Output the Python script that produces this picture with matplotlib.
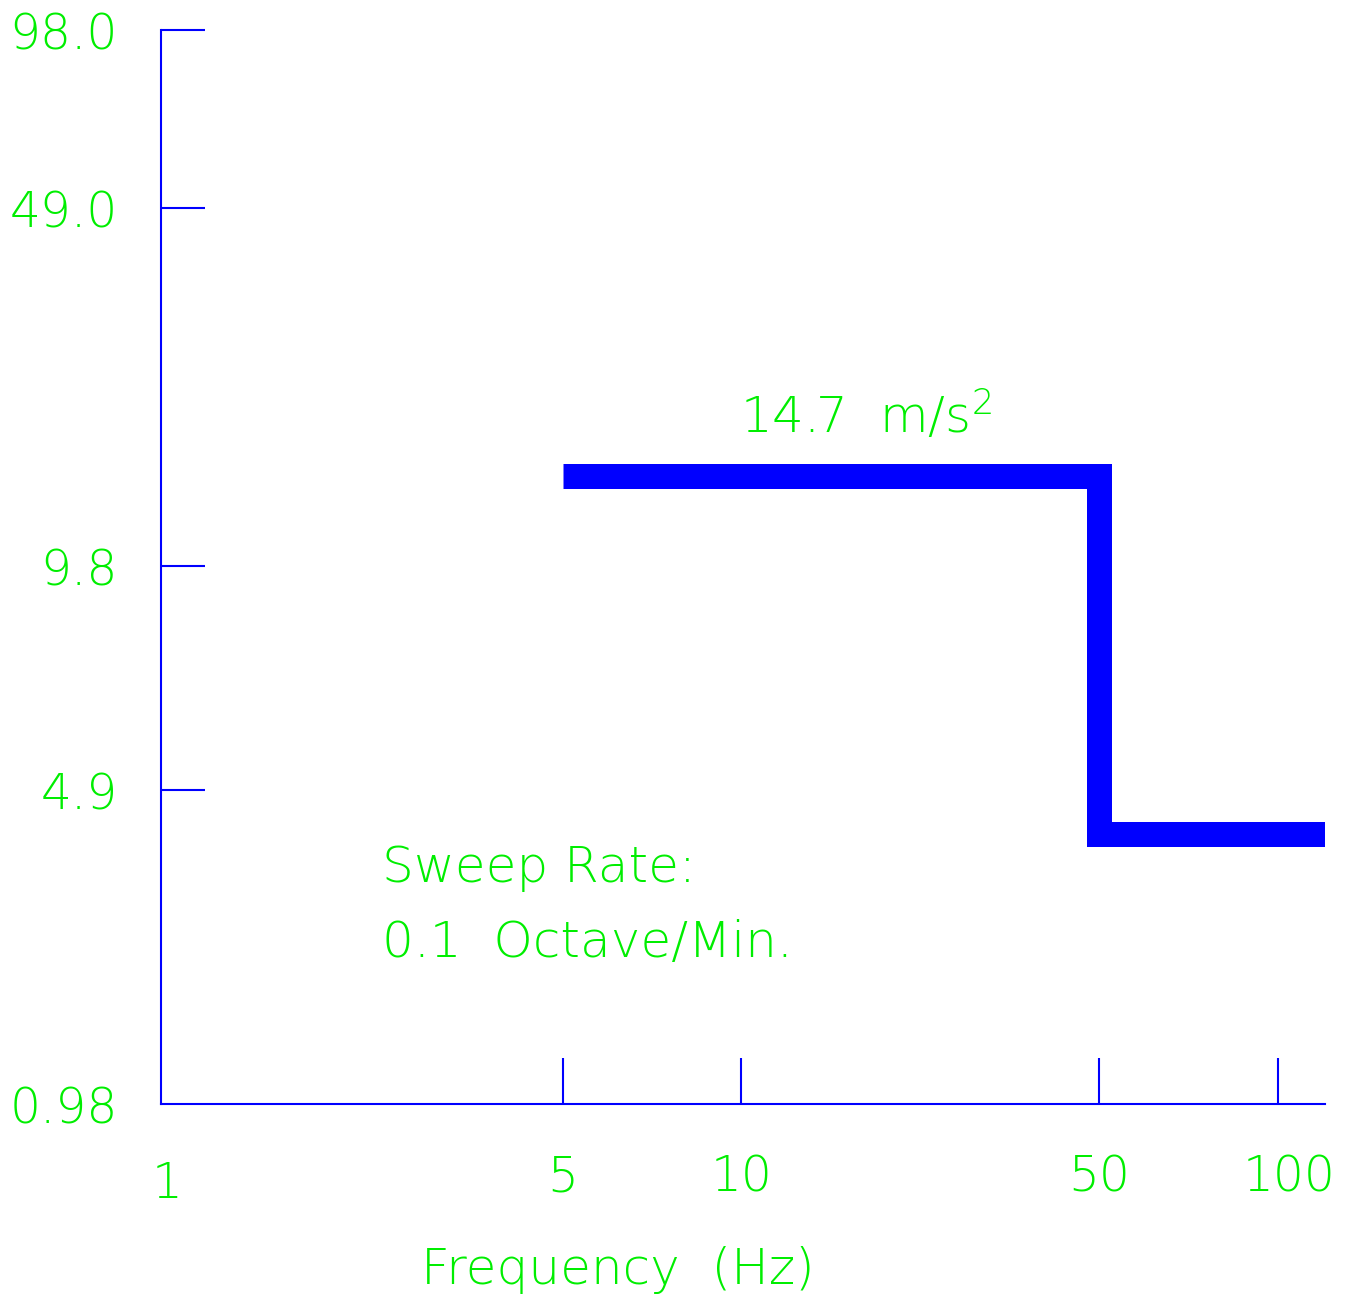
import numpy as np
import matplotlib
matplotlib.use("Agg")
import matplotlib.pyplot as plt
from matplotlib.transforms import ScaledTranslation

# sweep profile: acceleration (m/s^2) vs frequency (Hz)
freq = [5, 50, 50, 120]
accel = [14.7, 14.7, 3.92, 3.92]

x_ticks = [5, 10, 50, 100]
x_tick_labels = ["5", "10", "50", "100"]
y_ticks = [4.9, 9.8, 49.0, 98.0]
y_tick_labels = ["4.9", "9.8", "49.0", "98.0"]

BLUE = "#0000ff"
GREEN = "#00ee00"

# the drawing is not a true log-log grid, every interval has its own length
x_anchor_val = np.log10([0.5, 1, 5, 10, 50, 100, 400])
x_anchor_pos = np.array([-173, 0, 402, 581, 939, 1118, 1476])
y_anchor_val = np.log10([0.5, 0.98, 4.9, 9.8, 49, 98, 200])
y_anchor_pos = np.array([-131, 0, 314, 538, 896, 1074, 1257])


def make_scale(vals, pos):
    def fwd(v):
        v = np.clip(np.asarray(v, dtype=float), 1e-9, None)
        return np.interp(np.log10(v), vals, pos)

    def inv(p):
        return 10 ** np.interp(np.asarray(p, dtype=float), pos, vals)

    return fwd, inv


plt.rcParams["font.family"] = ["DejaVu Sans"]
plt.rcParams["mathtext.fontset"] = "custom"
plt.rcParams["mathtext.rm"] = "DejaVu Sans:light"
plt.rcParams["mathtext.it"] = "DejaVu Sans:light:italic"

fig = plt.figure(figsize=(13.51, 12.98), dpi=100)
ax = fig.add_axes([161 / 1351, 194 / 1298, 1164 / 1351, 1074 / 1298])

ax.set_xscale("function", functions=make_scale(x_anchor_val, x_anchor_pos))
ax.set_yscale("function", functions=make_scale(y_anchor_val, y_anchor_pos))

ax.plot(freq, accel, color=BLUE, lw=18, solid_joinstyle="miter",
        solid_capstyle="butt")

ax.set_xlim(1, 120)
ax.set_ylim(0.98, 98)

for s in ["top", "right"]:
    ax.spines[s].set_visible(False)
for s in ["left", "bottom"]:
    ax.spines[s].set_color(BLUE)
    ax.spines[s].set_linewidth(1.5)

ax.set_xticks(x_ticks, x_tick_labels)
ax.set_xticks([1], ["1"], minor=True)
ax.set_yticks(y_ticks, y_tick_labels)
ax.set_yticks([0.98], ["0.98"], minor=True)

ax.tick_params(which="both", direction="in", color=BLUE, width=1.5,
               labelcolor=GREEN, labelsize=35)
ax.tick_params(axis="x", which="major", length=33, pad=36)
ax.tick_params(axis="x", which="minor", length=0, pad=40)
ax.tick_params(axis="y", which="major", length=32, pad=31)
ax.tick_params(axis="y", which="minor", length=0, pad=31)
for lab in ax.get_xticklabels(which="both") + ax.get_yticklabels(which="both"):
    lab.set_fontweight("light")

# small nudges of the "100" and "1" labels, as in the drawing
fig.canvas.draw()
for lab in ax.get_xticklabels(which="both"):
    if lab.get_text() == "100":
        lab.set_transform(lab.get_transform() +
                          ScaledTranslation(0.11, 0, fig.dpi_scale_trans))
    elif lab.get_text() == "1":
        lab.set_transform(lab.get_transform() +
                          ScaledTranslation(0.06, 0, fig.dpi_scale_trans))

txt = dict(color=GREEN, fontsize=36, fontweight="light")
ax.text(0.4974, 0.6248, r"14.7  m/s$^{\mathrm{2}}$", transform=ax.transAxes,
        va="baseline", **txt)
ax.text(0.1899, 0.2067, "Sweep Rate:", transform=ax.transAxes,
        va="baseline", **txt)
ax.text(0.1899, 0.1369, "0.1  Octave/Min.", transform=ax.transAxes,
        va="baseline", **txt)

fig.text(618 / 1351, 1 - 1270 / 1298, "Frequency  (Hz)",
         ha="center", va="center", **txt)

fig.savefig("out.png", dpi=100)
